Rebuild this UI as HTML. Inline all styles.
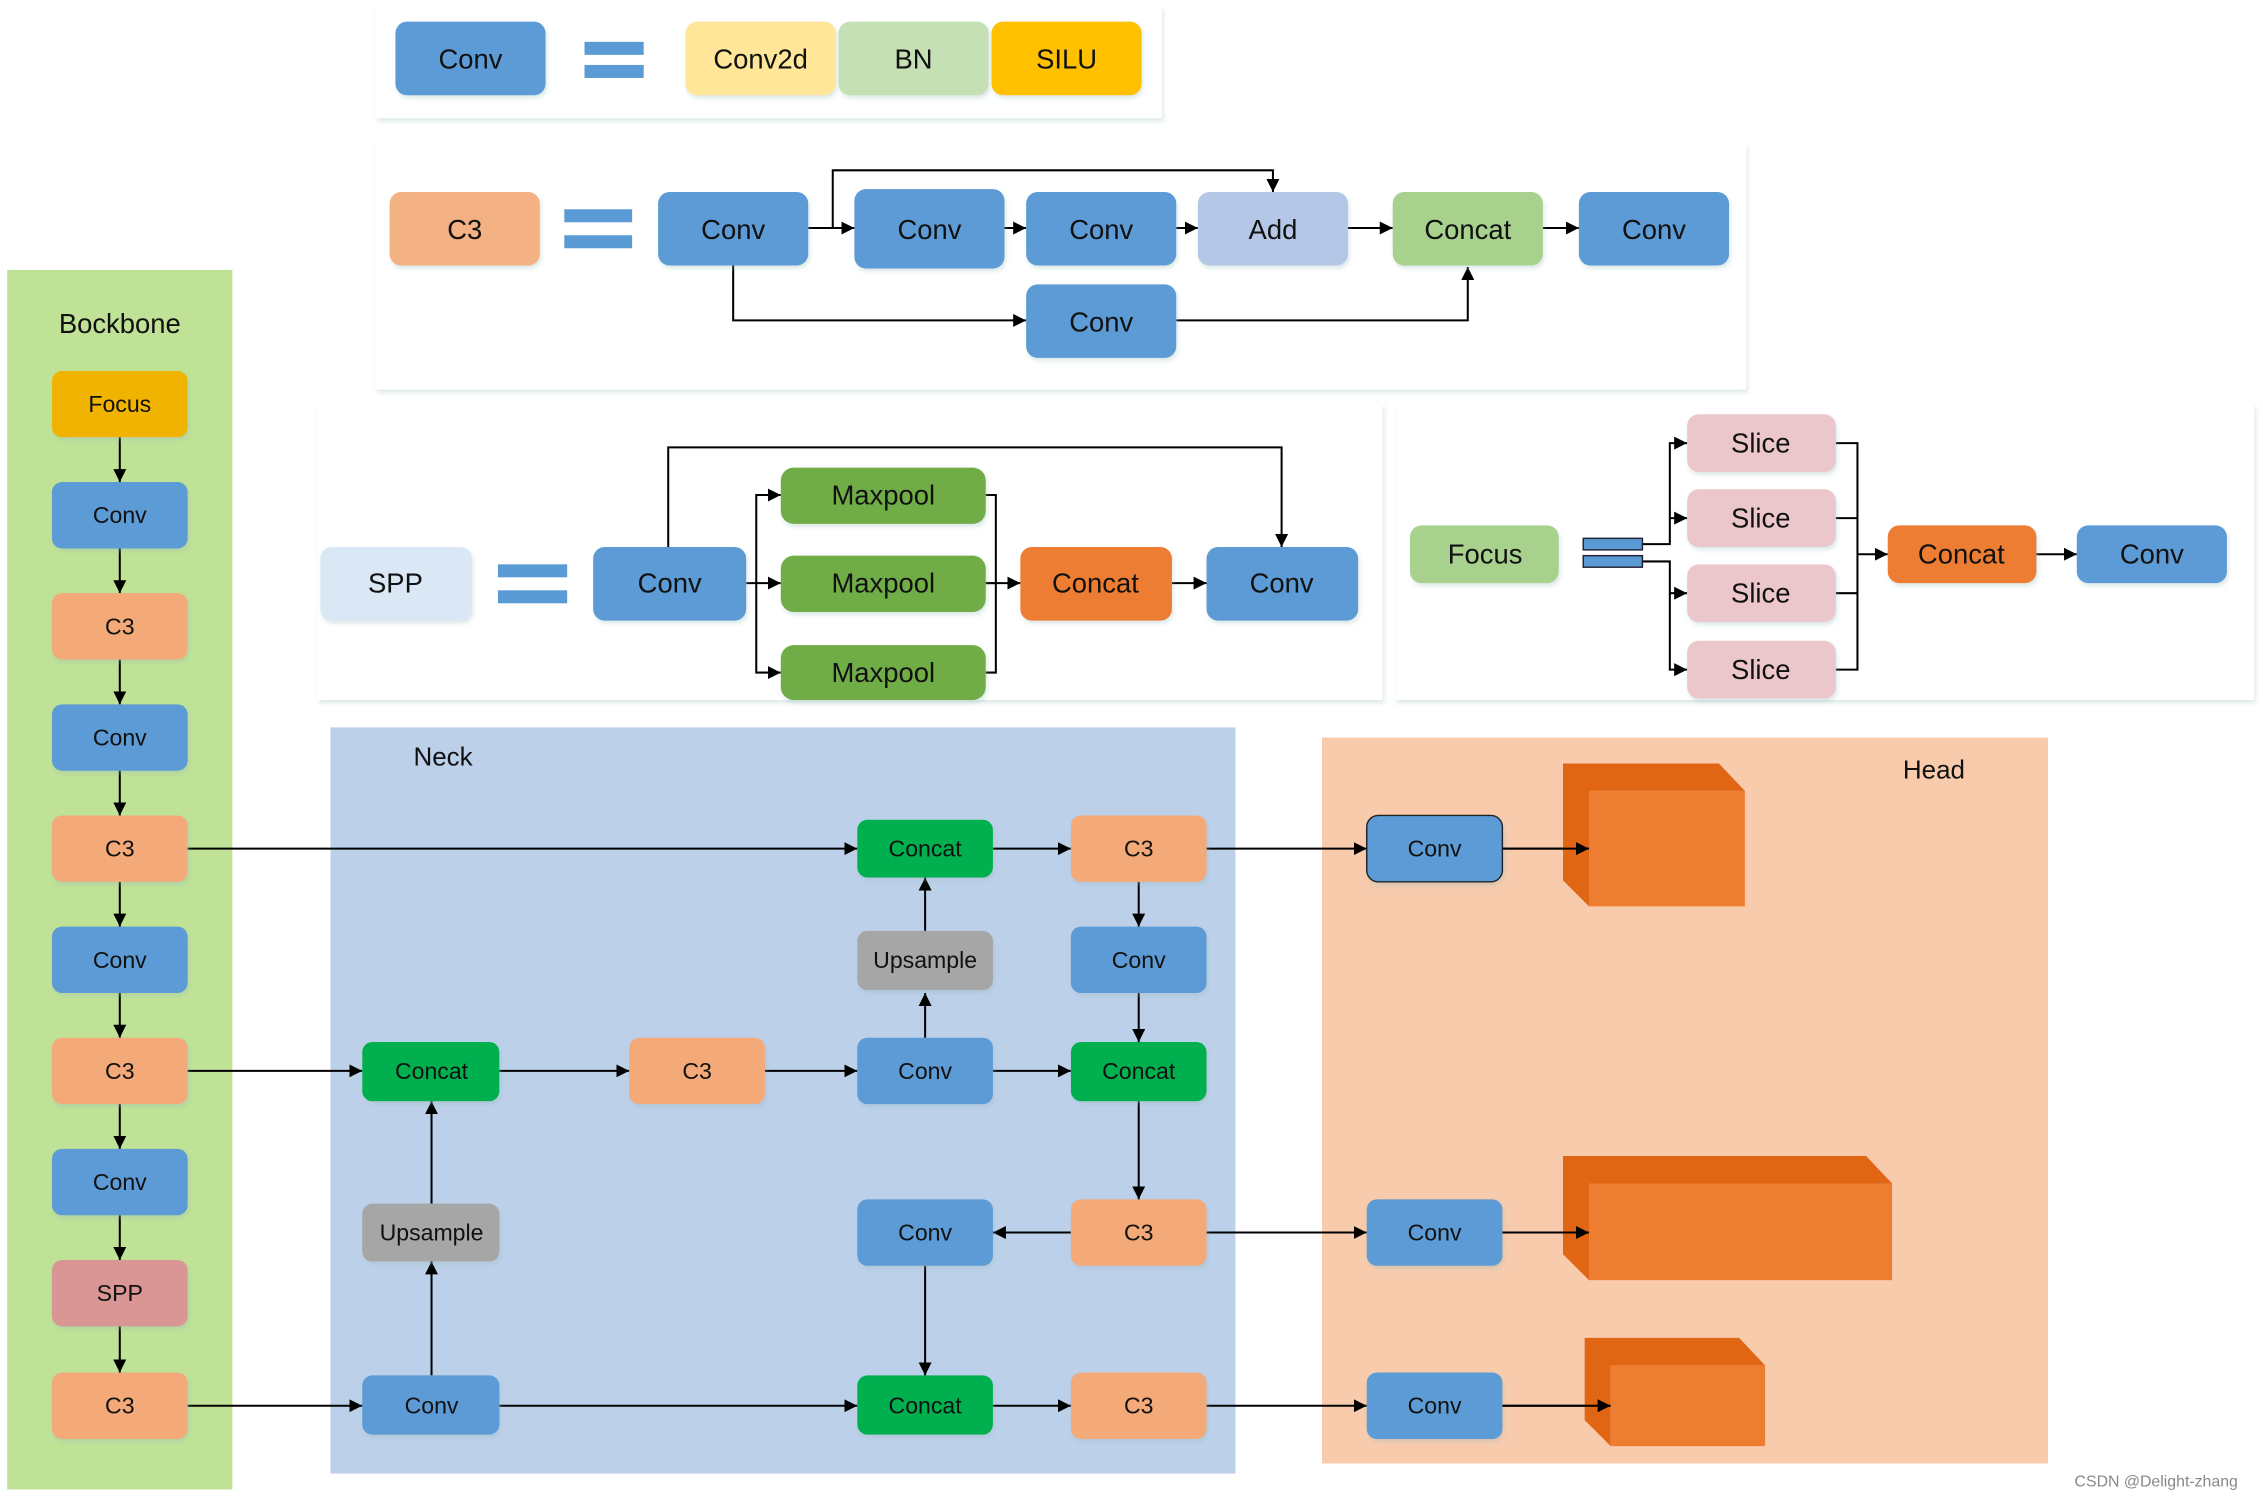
<!DOCTYPE html>
<html><head><meta charset="utf-8"><style>
html,body{margin:0;padding:0;background:#fff;}
svg{display:block;}
text{font-family:"Liberation Sans",sans-serif;fill:#111;text-anchor:middle;dominant-baseline:central;}
</style></head><body>
<svg width="2263" height="1501" viewBox="0 0 1568 1040" preserveAspectRatio="none" xmlns="http://www.w3.org/2000/svg">
<defs>
<marker id="a" viewBox="0 0 10 10" refX="10" refY="5" markerWidth="9" markerHeight="9" markerUnits="userSpaceOnUse" orient="auto"><path d="M0,0L10,5L0,10z" fill="#000"/></marker>
<filter id="sh" x="-5%" y="-5%" width="110%" height="115%"><feDropShadow dx="1" dy="2" stdDeviation="1.5" flood-color="#9bb" flood-opacity="0.35"/></filter>
</defs>
<g fill="#fff" filter="url(#sh)">
<rect x="260" y="5" width="545" height="77"/>
<rect x="260" y="100" width="950" height="170"/>
<rect x="220" y="280" width="738" height="205"/>
<rect x="967" y="280" width="595" height="205"/>
</g>
<rect x="5" y="187" width="156" height="845" fill="#bfe296"/>
<rect x="229" y="504" width="627" height="517" fill="#bcd0ea"/>
<rect x="916" y="511" width="503" height="503" fill="#f8cbad"/>
<text x="83" y="224" font-size="19">Bockbone</text>
<text x="307" y="524" font-size="18">Neck</text>
<text x="1340" y="533" font-size="18">Head</text>

<g stroke="#000" stroke-width="1.4" fill="none" marker-end="url(#a)">
<!-- C3 panel -->
<path d="M560,158H592"/><path d="M577,158V118H882V133"/><path d="M696,158H711"/><path d="M815,158H830"/><path d="M934,158H965"/><path d="M1069,158H1094"/>
<path d="M508,184V222H711"/><path d="M815,222H1017V185"/>
<!-- SPP -->
<path d="M517,404H541"/><path d="M524,404V343H541"/><path d="M524,404V466H541"/>
<path d="M683,404H707" /><path d="M812,404H836"/><path d="M463,379V310H888V379"/>
<!-- Focus -->
<path d="M1138,377H1157V307H1169"/><path d="M1157,359H1169"/><path d="M1138,389H1157V464H1169"/><path d="M1157,411H1169"/>
<path d="M1287,384H1308"/><path d="M1411,384H1439"/>
<!-- backbone -->
<path d="M83,303V334"/><path d="M83,380V411"/><path d="M83,457V488"/><path d="M83,534V565"/><path d="M83,611V642"/><path d="M83,688V719"/><path d="M83,765V796"/><path d="M83,842V873"/><path d="M83,919V951"/>
<!-- neck -->
<path d="M130,588H594"/><path d="M688,588H742"/><path d="M789,611V642"/><path d="M641,645V608"/><path d="M641,719V688"/>
<path d="M130,742H251"/><path d="M346,742H436"/><path d="M530,742H594"/><path d="M688,742H742"/><path d="M789,688V722"/>
<path d="M789,763V831"/><path d="M742,854H688"/><path d="M641,877V953"/>
<path d="M130,974H251"/><path d="M299,953V874"/><path d="M299,834V763"/><path d="M346,974H594"/><path d="M688,974H742"/>
<path d="M836,588H947"/><path d="M836,854H947"/><path d="M836,974H947"/>
<path d="M1041,588H1101"/><path d="M1041,854H1101"/><path d="M1041,974H1116"/>
</g>
<path d="M683,343H690V466H683M683,404H690" stroke="#000" stroke-width="1.4" fill="none"/>
<path d="M1272,307H1287V464H1272M1272,359H1287M1272,411H1287" stroke="#000" stroke-width="1.4" fill="none"/>

<g filter="url(#sh)">
<!-- legend -->
<rect x="274" y="15" width="104" height="51" rx="8" fill="#5b9bd5"/>
<rect x="475" y="15" width="104" height="51" rx="8" fill="#ffe699"/>
<rect x="581" y="15" width="104" height="51" rx="8" fill="#c5e0b4"/>
<rect x="687" y="15" width="104" height="51" rx="8" fill="#ffc000"/>
<!-- C3 -->
<rect x="270" y="133" width="104" height="51" rx="8" fill="#f4b183"/>
<rect x="456" y="133" width="104" height="51" rx="8" fill="#5b9bd5"/>
<rect x="592" y="131" width="104" height="55" rx="8" fill="#5b9bd5"/>
<rect x="711" y="133" width="104" height="51" rx="8" fill="#5b9bd5"/>
<rect x="830" y="133" width="104" height="51" rx="8" fill="#b4c7e7"/>
<rect x="965" y="133" width="104" height="51" rx="8" fill="#a9d18e"/>
<rect x="1094" y="133" width="104" height="51" rx="8" fill="#5b9bd5"/>
<rect x="711" y="197" width="104" height="51" rx="8" fill="#5b9bd5"/>
<!-- SPP -->
<rect x="222" y="379" width="105" height="51" rx="8" fill="#dae7f5"/>
<rect x="411" y="379" width="106" height="51" rx="8" fill="#5b9bd5"/>
<rect x="541" y="324" width="142" height="39" rx="9" fill="#70ad47"/>
<rect x="541" y="385" width="142" height="39" rx="9" fill="#70ad47"/>
<rect x="541" y="447" width="142" height="38" rx="9" fill="#70ad47"/>
<rect x="707" y="379" width="105" height="51" rx="8" fill="#ed7d31"/>
<rect x="836" y="379" width="105" height="51" rx="8" fill="#5b9bd5"/>
<!-- Focus -->
<rect x="977" y="364" width="103" height="40" rx="8" fill="#a9d18e"/>
<rect x="1169" y="287" width="103" height="40" rx="8" fill="#ebc7cb"/>
<rect x="1169" y="339" width="103" height="40" rx="8" fill="#ebc7cb"/>
<rect x="1169" y="391" width="103" height="40" rx="8" fill="#ebc7cb"/>
<rect x="1169" y="444" width="103" height="40" rx="8" fill="#ebc7cb"/>
<rect x="1308" y="364" width="103" height="40" rx="8" fill="#ed7d31"/>
<rect x="1439" y="364" width="104" height="40" rx="8" fill="#5b9bd5"/>
<!-- backbone -->
<rect x="36" y="257" width="94" height="46" rx="7" fill="#f0b400"/>
<rect x="36" y="334" width="94" height="46" rx="7" fill="#5b9bd5"/>
<rect x="36" y="411" width="94" height="46" rx="7" fill="#f4a978"/>
<rect x="36" y="488" width="94" height="46" rx="7" fill="#5b9bd5"/>
<rect x="36" y="565" width="94" height="46" rx="7" fill="#f4a978"/>
<rect x="36" y="642" width="94" height="46" rx="7" fill="#5b9bd5"/>
<rect x="36" y="719" width="94" height="46" rx="7" fill="#f4a978"/>
<rect x="36" y="796" width="94" height="46" rx="7" fill="#5b9bd5"/>
<rect x="36" y="873" width="94" height="46" rx="7" fill="#d99694"/>
<rect x="36" y="951" width="94" height="46" rx="7" fill="#f4a978"/>
<!-- neck -->
<rect x="594" y="568" width="94" height="40" rx="7" fill="#00b050"/>
<rect x="742" y="565" width="94" height="46" rx="7" fill="#f4a978"/>
<rect x="594" y="645" width="94" height="41" rx="7" fill="#a6a6a6"/>
<rect x="742" y="642" width="94" height="46" rx="7" fill="#5b9bd5"/>
<rect x="251" y="722" width="95" height="41" rx="7" fill="#00b050"/>
<rect x="436" y="719" width="94" height="46" rx="7" fill="#f4a978"/>
<rect x="594" y="719" width="94" height="46" rx="7" fill="#5b9bd5"/>
<rect x="742" y="722" width="94" height="41" rx="7" fill="#00b050"/>
<rect x="251" y="834" width="95" height="40" rx="7" fill="#a6a6a6"/>
<rect x="594" y="831" width="94" height="46" rx="7" fill="#5b9bd5"/>
<rect x="742" y="831" width="94" height="46" rx="7" fill="#f4a978"/>
<rect x="251" y="953" width="95" height="41" rx="7" fill="#5b9bd5"/>
<rect x="594" y="953" width="94" height="41" rx="7" fill="#00b050"/>
<rect x="742" y="951" width="94" height="46" rx="7" fill="#f4a978"/>
<!-- head -->
<rect x="947" y="565" width="94" height="46" rx="8" fill="#5b9bd5" stroke="#222" stroke-width="1"/>
<rect x="947" y="831" width="94" height="46" rx="7" fill="#5b9bd5"/>
<rect x="947" y="951" width="94" height="46" rx="7" fill="#5b9bd5"/>
</g>
<!-- equals signs -->
<g fill="#5b9bd5">
<rect x="405" y="29" width="41" height="9"/><rect x="405" y="45" width="41" height="9"/>
<rect x="391" y="145" width="47" height="9"/><rect x="391" y="163" width="47" height="9"/>
<rect x="345" y="391" width="48" height="9"/><rect x="345" y="409" width="48" height="9"/>
<rect x="1097" y="373" width="41" height="8" stroke="#223" stroke-width="1"/><rect x="1097" y="385" width="41" height="8" stroke="#223" stroke-width="1"/>
</g>
<!-- cubes -->
<polygon points="1083,529 1191,529 1209,548 1101,548 1101,628 1083,610" fill="#e06614"/>
<rect x="1101" y="548" width="108" height="80" fill="#ed7d31"/>
<polygon points="1083,801 1293,801 1311,820 1101,820 1101,887 1083,869" fill="#e06614"/>
<rect x="1101" y="820" width="210" height="67" fill="#ed7d31"/>
<polygon points="1098,927 1205,927 1223,946 1116,946 1116,1002 1098,984" fill="#e06614"/>
<rect x="1116" y="946" width="107" height="56" fill="#ed7d31"/>
<g stroke="#000" stroke-width="1.4" fill="none" marker-end="url(#a)">
<path d="M1041,588H1101"/><path d="M1041,854H1101"/><path d="M1041,974H1116"/>
</g>

<g font-size="19">
<text x="326" y="41">Conv</text><text x="527" y="41">Conv2d</text><text x="633" y="41">BN</text><text x="739" y="41">SILU</text>
<text x="322" y="159">C3</text><text x="508" y="159">Conv</text><text x="644" y="159">Conv</text><text x="763" y="159">Conv</text><text x="882" y="159">Add</text><text x="1017" y="159">Concat</text><text x="1146" y="159">Conv</text><text x="763" y="223">Conv</text>
<text x="274" y="404">SPP</text><text x="464" y="404">Conv</text><text x="612" y="343">Maxpool</text><text x="612" y="404">Maxpool</text><text x="612" y="466">Maxpool</text><text x="759" y="404">Concat</text><text x="888" y="404">Conv</text>
<text x="1029" y="384">Focus</text><text x="1220" y="307">Slice</text><text x="1220" y="359">Slice</text><text x="1220" y="411">Slice</text><text x="1220" y="464">Slice</text><text x="1359" y="384">Concat</text><text x="1491" y="384">Conv</text>
</g>
<g font-size="16">
<text x="83" y="280">Focus</text><text x="83" y="357">Conv</text><text x="83" y="434">C3</text><text x="83" y="511">Conv</text><text x="83" y="588">C3</text><text x="83" y="665">Conv</text><text x="83" y="742">C3</text><text x="83" y="819">Conv</text><text x="83" y="896">SPP</text><text x="83" y="974">C3</text>
<text x="641" y="588">Concat</text><text x="789" y="588">C3</text><text x="641" y="665">Upsample</text><text x="789" y="665">Conv</text>
<text x="299" y="742">Concat</text><text x="483" y="742">C3</text><text x="641" y="742">Conv</text><text x="789" y="742">Concat</text>
<text x="299" y="854">Upsample</text><text x="641" y="854">Conv</text><text x="789" y="854">C3</text>
<text x="299" y="974">Conv</text><text x="641" y="974">Concat</text><text x="789" y="974">C3</text>
<text x="994" y="588">Conv</text><text x="994" y="854">Conv</text><text x="994" y="974">Conv</text>
</g>
<text x="1494" y="1027" font-size="11" style="fill:#888">CSDN @Delight-zhang</text>
</svg>
</body></html>
